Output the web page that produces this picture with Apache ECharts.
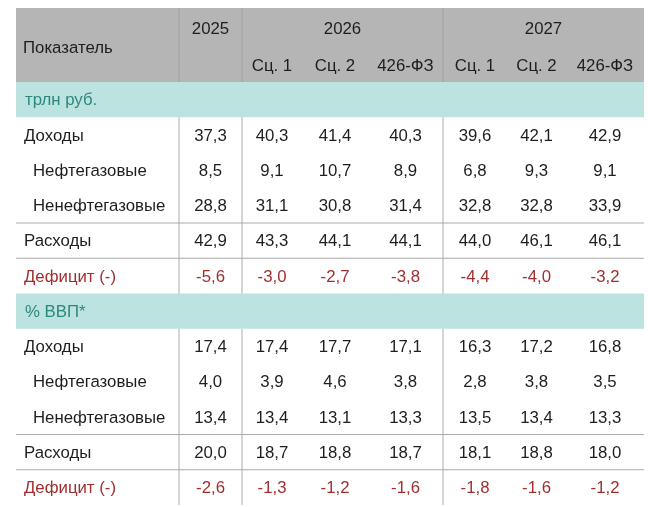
<!DOCTYPE html>
<html>
<head>
<meta charset="utf-8">
<script src="https://cdn.jsdelivr.net/npm/echarts@6/dist/echarts.min.js"></script>
<style>
    html, body { margin: 0; padding: 0; background: #fff; }
    #chart-container { width: 648px; height: 507px; }
</style>
</head>
<body>
<div id="chart-container"></div>
<script>
var headerLabel = 'Показатель';
var years = ['2025', '2026', '2027'];
var scenarios = ['Сц. 1', 'Сц. 2', '426-ФЗ'];
var sections = ['трлн руб.', '% ВВП*'];
var rowNames = ['Доходы', 'Нефтегазовые', 'Ненефтегазовые', 'Расходы', 'Дефицит (-)'];

// columns: 2025 | 2026 Сц.1, Сц.2, 426-ФЗ | 2027 Сц.1, Сц.2, 426-ФЗ
var trlnIncome = [37.3, 40.3, 41.4, 40.3, 39.6, 42.1, 42.9];
var trlnOilGas = [8.5, 9.1, 10.7, 8.9, 6.8, 9.3, 9.1];
var trlnNonOilGas = [28.8, 31.1, 30.8, 31.4, 32.8, 32.8, 33.9];
var trlnSpending = [42.9, 43.3, 44.1, 44.1, 44.0, 46.1, 46.1];
var trlnDeficit = [-5.6, -3.0, -2.7, -3.8, -4.4, -4.0, -3.2];

var gdpIncome = [17.4, 17.4, 17.7, 17.1, 16.3, 17.2, 16.8];
var gdpOilGas = [4.0, 3.9, 4.6, 3.8, 2.8, 3.8, 3.5];
var gdpNonOilGas = [13.4, 13.4, 13.1, 13.3, 13.5, 13.4, 13.3];
var gdpSpending = [20.0, 18.7, 18.8, 18.7, 18.1, 18.8, 18.0];
var gdpDeficit = [-2.6, -1.3, -1.2, -1.6, -1.8, -1.6, -1.2];

(function () {
    var sectionData = [
        [trlnIncome, trlnOilGas, trlnNonOilGas, trlnSpending, trlnDeficit],
        [gdpIncome, gdpOilGas, gdpNonOilGas, gdpSpending, gdpDeficit]
    ];

    // layout (axis units = px inside the grid)
    var colWidths = [163, 63, 60, 66, 75, 64, 59, 78];
    var rowHeights = [37, 37];
    for (var i = 0; i < 12; i++) rowHeights.push(35.25);
    var colEdges = [0], rowEdges = [0];
    colWidths.forEach(function (w, i) { colEdges.push(colEdges[i] + w); });
    rowHeights.forEach(function (h, i) { rowEdges.push(rowEdges[i] + h); });
    var nCols = colWidths.length, nRows = rowHeights.length;

    var FONT = '16.8px "Liberation Sans", Arial, sans-serif';
    var colors = {
        text: '#1e1e1e', red: '#a12f2f', teal: '#2c887d',
        header: '#b5b5b5', band: '#bde3e0',
        headLine: '#a2a2a2', line: '#ababab'
    };

    var cells = [];
    function add(kind, c0, c1, r0, r1, extra) {
        var cell = extra || {};
        cell.kind = kind;
        cell.value = [colEdges[c0], colEdges[c1], rowEdges[r0], rowEdges[r1]];
        cells.push(cell);
    }
    function fmt(v) {
        return v.toFixed(1).replace('.', ',');
    }

    // backgrounds
    add('rect', 0, nCols, 0, 2, { fill: colors.header });
    sections.forEach(function (s, si) {
        add('rect', 0, nCols, 2 + si * 6, 3 + si * 6, { fill: colors.band });
    });

    // vertical separators
    [1, 2, 5].forEach(function (c) {
        add('vline', c, c, 0, 2, { stroke: colors.headLine });
        add('vline', c, c, 3, 8, { stroke: colors.line });
        add('vline', c, c, 9, nRows, { stroke: colors.line });
    });
    // horizontal separators above Расходы and Дефицит
    [6, 7, 12, 13].forEach(function (r) {
        add('hline', 0, nCols, r, r, { stroke: colors.line });
    });

    // header texts
    var hd = 2;
    add('text', 0, 1, 0, 2, { text: headerLabel, align: 'left', pad: 7, dy: hd, color: colors.text });
    add('text', 1, 2, 0, 1, { text: years[0], dy: hd, color: colors.text });
    add('text', 2, 5, 0, 1, { text: years[1], dy: hd, color: colors.text });
    add('text', 5, 8, 0, 1, { text: years[2], dy: hd, color: colors.text });
    scenarios.forEach(function (s, k) {
        add('text', 2 + k, 3 + k, 1, 2, { text: s, dy: hd, color: colors.text });
        add('text', 5 + k, 6 + k, 1, 2, { text: s, dy: hd, color: colors.text });
    });

    // body
    sections.forEach(function (title, si) {
        var base = 2 + si * 6;
        add('text', 0, nCols, base, base + 1, { text: title, align: 'left', pad: 9, color: colors.teal });
        rowNames.forEach(function (name, ri) {
            var r = base + 1 + ri;
            var isSub = ri === 1 || ri === 2;
            var color = ri === 4 ? colors.red : colors.text;
            add('text', 0, 1, r, r + 1, { text: name, align: 'left', pad: isSub ? 17 : 8, color: color });
            sectionData[si][ri].forEach(function (v, k) {
                add('text', 1 + k, 2 + k, r, r + 1, { text: fmt(v), color: color });
            });
        });
    });

    function renderItem(params, api) {
        var cell = cells[params.dataIndex];
        var p0 = api.coord([api.value(0), api.value(2)]);
        var p1 = api.coord([api.value(1), api.value(3)]);
        if (cell.kind === 'rect') {
            return {
                type: 'rect',
                shape: { x: p0[0], y: p0[1], width: p1[0] - p0[0], height: p1[1] - p0[1] },
                style: { fill: cell.fill }
            };
        }
        if (cell.kind === 'vline' || cell.kind === 'hline') {
            return {
                type: 'line',
                shape: { x1: p0[0], y1: p0[1], x2: p1[0], y2: p1[1] },
                style: { stroke: cell.stroke, lineWidth: 1 }
            };
        }
        var left = cell.align === 'left';
        return {
            type: 'text',
            style: {
                text: cell.text,
                x: left ? p0[0] + cell.pad : (p0[0] + p1[0]) / 2,
                y: (p0[1] + p1[1]) / 2 + 1 + (cell.dy || 0),
                fill: cell.color,
                font: FONT,
                align: left ? 'left' : 'center',
                verticalAlign: 'middle',
                textAlign: left ? 'left' : 'center',
                textVerticalAlign: 'middle'
            }
        };
    }

    var ioChart = echarts.init(document.getElementById('chart-container'));
    ioChart.setOption({
        animation: false,
        backgroundColor: '#fff',
        grid: { left: 16, right: 4, top: 8, bottom: 2 },
        xAxis: { type: 'value', min: 0, max: colEdges[nCols], show: false },
        yAxis: { type: 'value', min: 0, max: rowEdges[nRows], inverse: true, show: false },
        series: [{
            type: 'custom',
            renderItem: renderItem,
            encode: { x: [0, 1], y: [2, 3] },
            clip: false,
            silent: true,
            data: cells.map(function (c) { return c.value; })
        }]
    });
})();
</script>
</body>
</html>
